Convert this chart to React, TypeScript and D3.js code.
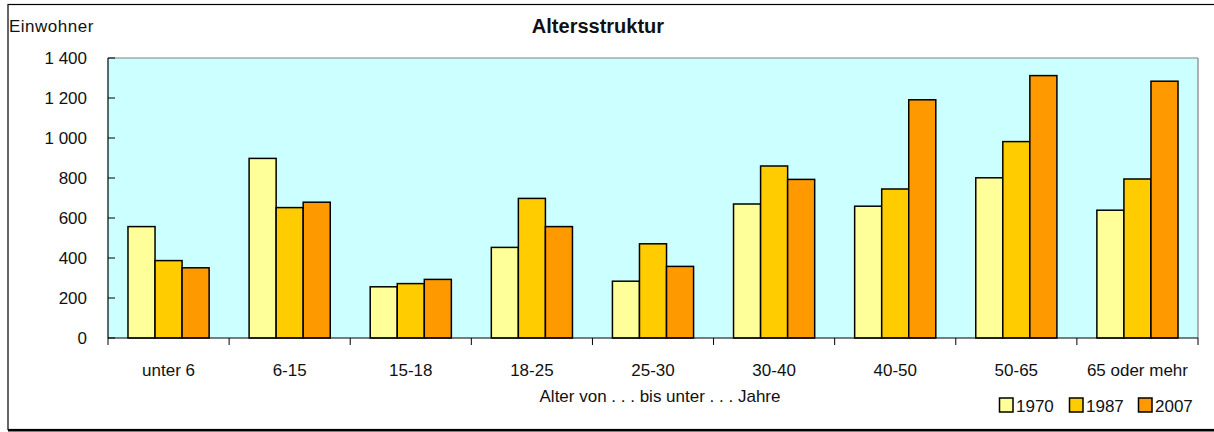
import React from 'react';
import * as d3 from 'd3';

// Altersstruktur: Einwohner nach Altersgruppen
const categories = ['unter 6', '6-15', '15-18', '18-25', '25-30', '30-40', '40-50', '50-65', '65 oder mehr'];
const seriesNames = ['1970', '1987', '2007'];
const values1970 = [557, 898, 256, 453, 284, 670, 659, 801, 639];
const values1987 = [387, 652, 272, 698, 471, 860, 745, 982, 795];
const values2007 = [351, 679, 293, 557, 358, 793, 1191, 1312, 1284];
const yTicks = [0, 200, 400, 600, 800, 1000, 1200, 1400];
const colors = ['#FFFF99', '#FFCC00', '#FF9900'];

const W = 1214;
const H = 432;
const FONT = '"Liberation Sans", Arial, sans-serif';

export default function App() {
  const left = 108, right = 1198, top = 58, bottom = 338;
  const seriesValues = [values1970, values1987, values2007];

  const x0 = d3.scaleBand<string>()
    .domain(categories)
    .range([left, right])
    .paddingInner(0.33)
    .paddingOuter(0.165);
  const x1 = d3.scaleBand<string>()
    .domain(seriesNames)
    .range([0, x0.bandwidth()]);
  const y = d3.scaleLinear().domain([0, 1400]).range([bottom, top]);

  const step = x0.step();
  const fmt = (v: number) => d3.format(',')(v).replace(',', ' ');

  return (
    <svg width={W} height={H} style={{ position: 'absolute', left: 0, top: 0, background: '#fff' }}
      fontFamily={FONT}>
      {/* outer frame */}
      <rect x={8} y={4.5} width={W + 20} height={425} fill="#fff" stroke="#000" strokeWidth={1.2} />
      <line x1={8} x2={W} y1={430.5} y2={430.5} stroke="#000" strokeWidth={2} />

      <text x={598} y={33} textAnchor="middle" fontSize={20} fontWeight="bold" fill="#111">Altersstruktur</text>
      <text x={9} y={32} fontSize={17} letterSpacing={0.5} fill="#111">Einwohner</text>

      {/* plot area */}
      <rect x={left} y={top} width={right - left} height={bottom - top} fill="#CCFFFF" />
      <line x1={left} x2={right} y1={top} y2={top} stroke="#808080" strokeWidth={1.2} />
      <line x1={right} x2={right} y1={top} y2={bottom} stroke="#808080" strokeWidth={1.2} />

      {/* bars */}
      {categories.map((c, i) => (
        <g key={c} transform={`translate(${x0(c)},0)`}>
          {seriesNames.map((s, j) => {
            const v = seriesValues[j][i];
            return (
              <rect key={s} x={x1(s)} y={y(v)} width={x1.bandwidth()} height={y(0) - y(v)}
                fill={colors[j]} stroke="#000" strokeWidth={1.5} />
            );
          })}
        </g>
      ))}

      {/* y axis */}
      <line x1={left} x2={left} y1={top} y2={bottom} stroke="#000" strokeWidth={1.2} />
      {yTicks.map(t => (
        <g key={t}>
          <line x1={left} x2={left + 7} y1={y(t)} y2={y(t)} stroke="#000" strokeWidth={1} />
          <text x={87} y={y(t) + 6} textAnchor="end" fontSize={17} fill="#111">{fmt(t)}</text>
        </g>
      ))}

      {/* x axis */}
      <line x1={left} x2={right} y1={bottom} y2={bottom} stroke="#000" strokeWidth={1.2} />
      {d3.range(categories.length + 1).map(i => {
        const xx = left + i * step;
        return <line key={i} x1={xx} x2={xx} y1={bottom} y2={bottom + 7} stroke="#000" strokeWidth={1} />;
      })}
      {categories.map(c => (
        <text key={c} x={(x0(c) ?? 0) + x0.bandwidth() / 2} y={376} textAnchor="middle" fontSize={17} fill="#111">{c}</text>
      ))}
      <text x={660} y={402} textAnchor="middle" fontSize={17} fill="#111">Alter von . . . bis unter . . . Jahre</text>

      {/* legend */}
      {seriesNames.map((s, j) => {
        const lx = [999, 1069, 1138][j];
        return (
          <g key={s}>
            <rect x={lx + 0.5} y={398} width={13.5} height={14} fill={colors[j]} stroke="#000" strokeWidth={1.5} />
            <text x={lx + 17} y={412} fontSize={17} fill="#111">{s}</text>
          </g>
        );
      })}
    </svg>
  );
}
